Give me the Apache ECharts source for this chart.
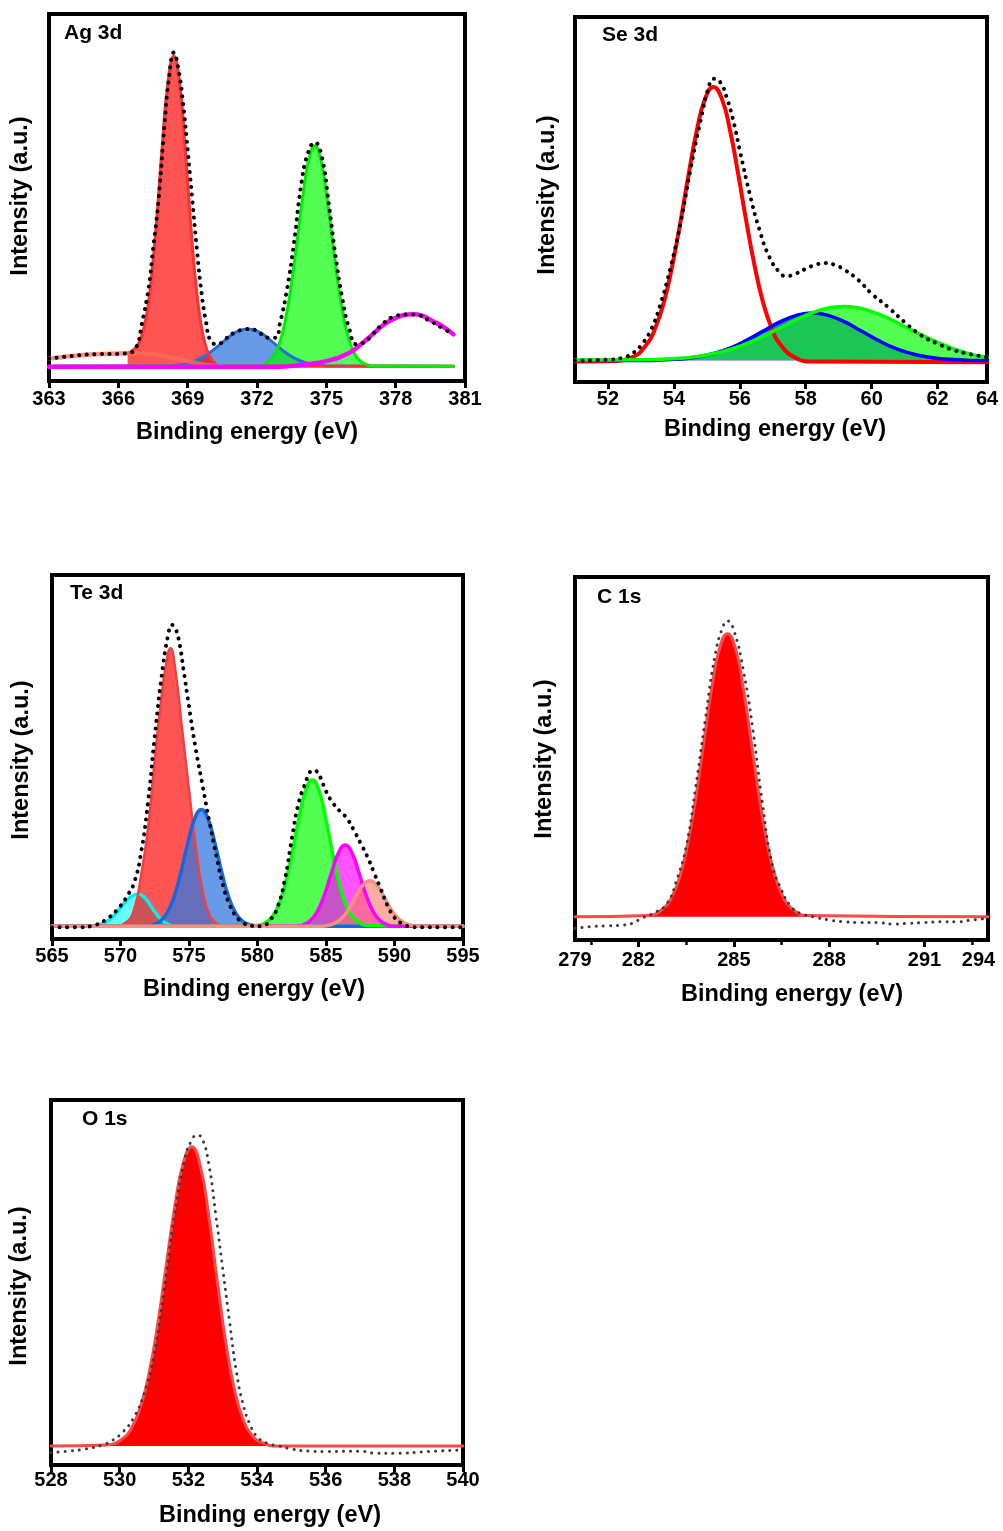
<!DOCTYPE html>
<html>
<head>
<meta charset="utf-8">
<title>XPS spectra</title>
<script src="https://cdn.jsdelivr.net/npm/echarts@6.0.0/dist/echarts.min.js"></script>
<style>
  html, body { margin: 0; padding: 0; background: #fff; }
  #chart { width: 1003px; height: 1531px; }
</style>
</head>
<body>
<div id="chart"></div>
<script>
// intensities are read as % of the plot box height, x in eV

// Ag 3d
const agTicks = [363, 366, 369, 372, 375, 378, 381]
const agBlue = [[363,4],[368.1,4.1],[368.6,4.3],[369.1,5.0],[369.6,6.3],[370.1,8.4],[370.6,11.0],[371.1,13.3],[371.6,14.2],[372.1,13.3],[372.6,11.0],[373.1,8.4],[373.6,6.3],[374.1,5.0],[374.6,4.3],[375.1,4.1],[380.5,4]]
const agRed = [[366.4,7.6],[366.65,8.5],[366.9,10.5],[367.15,15.6],[367.4,26.2],[367.65,43.2],[367.9,64.1],[368.15,81.5],[368.4,88.5],[368.65,81.0],[368.9,62.6],[369.15,41.1],[369.4,23.7],[369.65,12.8],[369.9,7.3],[370.15,5],[370.4,4.0],[380.5,4.0]]
const agBackground = [[363,6.1],[364,6.8],[365,7.3],[366,7.5],[366.6,7.6],[367.5,7.3],[368.4,6.2],[369.3,5.0],[370.1,4.1],[370.6,4.0]]
const agGreen = [[363,4],[372,4.1],[372.5,5.3],[372.75,7.1],[373,10.8],[373.25,17.3],[373.5,26.9],[373.75,38.9],[374,51.1],[374.25,60.5],[374.5,64],[374.75,60.5],[375,51.1],[375.25,38.9],[375.5,26.9],[375.75,17.3],[376,10.8],[376.25,7.1],[376.5,5.3],[377,4.1],[380.5,4]]
const agMagenta = [[363,3.9],[373,3.9],[374,4.5],[375,5.4],[376,7.7],[376.5,10],[377,12.7],[377.5,15.4],[378,17.2],[378.5,18.1],[378.8,18.2],[379.2,17.7],[379.6,16.3],[380,15],[380.5,12.7]]
const agEnvelope = [[363,6.1],[364,6.8],[365,7.3],[366,7.4],[366.5,7.7],[366.8,9.5],[367,15],[367.3,25],[367.5,35.8],[367.75,50],[368,70],[368.2,83],[368.4,89.5],[368.6,85],[368.8,75.7],[369,63],[369.2,49.4],[369.4,35.8],[369.6,24],[369.8,15.9],[370,10.9],[370.3,10],[370.6,11.3],[371,13.1],[371.5,14.1],[371.7,14.2],[372,13.6],[372.5,11.8],[372.8,11.8],[373,15.9],[373.3,25],[373.6,37.6],[373.9,53],[374.2,62],[374.5,65],[374.8,61.2],[375.1,48.5],[375.4,34],[375.7,22.2],[376,14],[376.3,10],[376.6,10.4],[377,12.7],[377.5,15.9],[378,17.7],[378.5,18.1],[378.8,18.1],[379.5,16.3],[380,14.5],[380.5,12.7]]

// Se 3d
const seTickValues = [52, 54, 56, 58, 60, 62]
const seLabelValues = [52, 54, 56, 58, 60, 62, 63.5]
const seLabelText = ['52', '54', '56', '58', '60', '62', '64']
const seRed = [[51,5.6],[52,5.7],[52.7,6.7],[53.2,10.6],[53.45,15.1],[53.7,22],[53.95,31.8],[54.2,43.9],[54.45,57],[54.7,69.1],[54.95,77.7],[55.2,80.8],[55.45,77.7],[55.7,69.1],[55.95,57],[56.2,43.9],[56.45,31.8],[56.7,22],[56.95,15.1],[57.2,10.6],[57.7,6.6],[58.2,5.6],[63.5,5.4]]
const seBlue = [[51,5.9],[53.2,5.9],[53.7,6.1],[54.2,6.3],[54.7,6.85],[55.2,7.8],[55.7,9.3],[56.2,11.4],[56.7,13.9],[57.2,16.4],[57.7,18.2],[58.2,18.9],[58.7,18.2],[59.2,16.4],[59.7,13.9],[60.2,11.4],[60.7,9.3],[61.2,7.8],[61.7,6.85],[62.2,6.3],[62.7,6.1],[63.2,5.9],[63.5,5.9]]
const seGreen = [[51,6.0],[53.15,6.1],[53.65,6.25],[54.15,6.5],[54.65,6.9],[55.15,7.7],[55.65,8.8],[56.15,10.3],[56.65,12.3],[57.15,14.5],[57.65,16.8],[58.15,18.8],[58.65,20.2],[59.15,20.7],[59.65,20.2],[60.15,18.8],[60.65,16.8],[61.15,14.5],[61.65,12.3],[62.15,10.3],[62.65,8.6],[63.15,7.3],[63.5,6.8]]
const seEnvelope = [[51,5.9],[52,6.1],[52.5,6.8],[52.8,8.2],[53,10],[53.3,14.2],[53.6,21.5],[53.9,31.5],[54.2,43.4],[54.5,58],[54.8,71.2],[55.1,82.2],[55.2,83.1],[55.4,82.2],[55.6,78],[55.8,71.7],[56,63.5],[56.3,51.6],[56.6,41.6],[56.9,34.2],[57.2,30.1],[57.4,29.0],[57.7,29.7],[58,31],[58.3,32.1],[58.6,32.6],[58.9,32],[59.2,30.6],[59.6,27.9],[60,24.2],[60.5,20.5],[61,16.4],[61.5,12.8],[62,10.5],[62.5,8.7],[63,7.6],[63.5,6.8]]

// Te 3d
const teTicks = [565, 570, 575, 580, 585, 590, 595]
const teCyan = [[565,3.5],[568,3.6],[568.5,4.0],[569,4.8],[569.5,6.3],[570,8.6],[570.5,10.8],[571,12.1],[571.3,12.3],[571.7,11.6],[572,10.3],[572.5,7.5],[573,5.2],[573.5,4.0],[574,3.6],[595,3.5]]
const teRed = [[565,3.5],[569.5,3.6],[570.4,4.5],[571,8.2],[571.5,17.4],[572,30.1],[572.5,49.3],[573,66.7],[573.3,74.9],[573.65,79.9],[574,74],[574.5,57.5],[575,41],[575.5,25],[576,13],[576.5,6.5],[577,4.3],[577.5,3.7],[578,3.5],[595,3.5]]
const teBlue = [[565,3.5],[571.9,3.5],[572.4,4.0],[572.9,4.9],[573.4,7.2],[573.9,11.5],[574.4,18.2],[574.9,26.2],[575.4,32.9],[575.9,35.6],[576.4,32.9],[576.9,26.2],[577.4,18.2],[577.9,11.5],[578.4,7.2],[578.9,4.9],[579.4,4.0],[579.9,3.5],[595,3.5]]
const teGreen = [[565,3.5],[580,3.7],[580.5,4.3],[581,5.8],[581.5,8.9],[582,14.7],[582.5,23.1],[583,32.7],[583.5,40.6],[584,43.7],[584.5,40.6],[585,32.7],[585.5,23.1],[586,14.7],[586.5,8.9],[587,5.8],[587.5,4.3],[588,3.7],[595,3.5]]
const teMagenta = [[565,3.5],[582.9,3.5],[583.4,4.0],[583.9,5.2],[584.4,7.8],[584.9,12.3],[585.4,18.2],[585.9,23.6],[586.4,25.8],[586.9,23.6],[587.4,18.2],[587.9,12.3],[588.4,7.8],[588.9,5.2],[589.4,4.0],[589.9,3.5],[595,3.5]]
const teSalmon = [[565,3.5],[584.7,3.5],[585.2,3.8],[585.7,4.45],[586.2,5.9],[586.7,8.4],[587.2,11.8],[587.7,14.8],[588.2,16],[588.7,14.8],[589.2,11.8],[589.7,8.4],[590.2,5.9],[590.7,4.45],[591.2,3.8],[591.7,3.5],[595,3.5]]
const teEnvelope = [[565,3.2],[567,3.2],[568,3.7],[569,5.5],[570,9.1],[570.5,11.9],[571,15.5],[571.5,23.7],[572,37.4],[572.5,55.7],[573,72.1],[573.5,84],[573.75,86.3],[574,85.4],[574.3,81.3],[574.6,74],[575,63.9],[575.5,52],[576,42],[576.5,32],[577,22.8],[577.5,14.6],[578,9.1],[578.5,5.9],[579,4.3],[579.5,3.7],[580,3.5],[580.5,3.8],[581,5.5],[581.5,9.1],[582,16.4],[582.5,27.4],[583,37.4],[583.5,42.9],[583.8,45.7],[584,46.3],[584.3,46.1],[584.6,44.3],[585,40.6],[585.5,37.4],[586,35.2],[586.5,33.3],[587,30.1],[587.5,26.5],[588,22.8],[588.5,18.3],[589,13.7],[589.5,9.1],[590,5.9],[590.5,4.3],[591,3.5],[592,3.2],[595,3.2]]

// C 1s
const cTickValues = [282, 285, 288, 291]
const cMinorTicks = [280.5, 283.5, 286.5, 289.5, 292.5]
const cLabelValues = [280, 282, 285, 288, 291, 292.7]
const cLabelText = ['279', '282', '285', '288', '291', '294']
const cPeak = [[280,6.4],[282.3,6.75],[282.8,8.85],[283.05,11.9],[283.3,17.5],[283.55,26.6],[283.8,39.2],[284.05,54.3],[284.3,69.2],[284.55,80.3],[284.8,84.4],[285.05,80.3],[285.3,69.2],[285.55,54.3],[285.8,39.2],[286.05,26.6],[286.3,17.5],[286.55,11.9],[286.8,8.85],[287.3,6.75],[293,6.4]]
const cEnvelope = [[280,3.2],[280.5,3.7],[281,3.9],[281.5,4.1],[281.8,4.6],[282.1,6.0],[282.5,7.5],[282.9,10.1],[283.2,16.5],[283.5,25.7],[283.8,42.2],[284.1,60.6],[284.4,78],[284.65,86.2],[284.8,87.9],[285,85.3],[285.3,74.3],[285.6,57.8],[285.9,37.6],[286.2,21.1],[286.5,13.8],[286.8,9.2],[287.1,7.3],[287.5,6.4],[288,5.5],[288.5,5.0],[289,4.8],[289.5,4.8],[290,4.4],[290.5,4.6],[291,4.8],[291.5,5.0],[292,5.0],[292.5,5.5],[293,6.0]]

// O 1s
const oTicks = [528, 530, 532, 534, 536, 538, 540]
const oPeak = [[528,5.2],[529.6,5.5],[530.1,7.3],[530.35,10.2],[530.6,15.7],[530.85,24.9],[531.1,38.1],[531.35,54.3],[531.6,70.5],[531.85,82.6],[532.1,87.2],[532.35,81.8],[532.6,67.8],[532.85,49.8],[533.1,33],[533.35,20.3],[533.6,12.4],[533.85,8.2],[534.1,6.3],[534.6,5.2],[540,5.2]]
const oEnvelope = [[528,3.4],[528.5,3.8],[529,4.4],[529.5,5.5],[529.8,6.8],[530.1,9.1],[530.4,12.8],[530.7,19.2],[531,30.1],[531.3,48.4],[531.6,68.5],[531.9,84],[532.1,89],[532.25,90.4],[532.4,89.5],[532.6,82.2],[532.8,68.5],[533,53.9],[533.2,39.3],[533.4,25.6],[533.6,16.4],[533.8,11],[534,7.8],[534.3,5.9],[534.6,5.3],[535,4.4],[535.5,3.8],[536,3.7],[537,3.8],[537.5,3.2],[538,3.2],[539,3.7],[539.9,4.1]]

const FONT = '"Liberation Sans", Arial, Helvetica, sans-serif'
const DOTS = [0.1, 7.5]

const chart = echarts.init(document.getElementById('chart'))

const makeGrid = (left, top, width, height) => ({
  left, top, width, height,
  show: true,
  borderColor: '#000',
  borderWidth: 4,
  backgroundColor: 'transparent',
  containLabel: false,
  outerBoundsMode: 'none'
})

const makeXAxis = (gridIndex, min, max, tickValues, labelValues, labelText, margin) => ({
  type: 'value',
  gridIndex, min, max,
  position: 'bottom',
  axisLine: { show: false },
  splitLine: { show: false },
  axisTick: {
    show: true, inside: false, length: 7,
    customValues: tickValues,
    lineStyle: { color: '#000', width: 3 }
  },
  axisLabel: {
    show: true, margin,
    color: '#000', fontFamily: FONT, fontWeight: 'bold', fontSize: 20,
    customValues: labelValues,
    formatter: (v) => {
      const i = labelValues.indexOf(v)
      return i >= 0 && labelText ? labelText[i] : String(v)
    }
  }
})

const makeYAxis = (gridIndex) => ({
  type: 'value', gridIndex, min: 0, max: 100, show: false
})

// one fitted component / envelope
const curve = (idx, data, color, width, fill, origin, dash) => {
  const s = {
    type: 'line',
    xAxisIndex: idx,
    yAxisIndex: idx,
    data,
    showSymbol: false,
    symbol: 'none',
    smooth: 0.5,
    silent: true,
    lineStyle: { color, width, type: dash || 'solid', cap: 'round', join: 'round' }
  }
  if (fill) s.areaStyle = { color: fill, origin, opacity: 1 }
  return s
}

const text = (x, y, str, size, align, rotation) => ({
  type: 'text',
  x, y,
  rotation: rotation || 0,
  silent: true,
  style: {
    text: str,
    fill: '#000',
    font: `bold ${size}px ${FONT}`,
    align: align || 'center',
    verticalAlign: 'middle'
  }
})

const xName = 'Binding energy (eV)'
const yName = 'Intensity (a.u.)'
const up = Math.PI / 2

const option = {
  animation: false,
  backgroundColor: '#fff',
  grid: [
    makeGrid(49, 14, 416, 367),
    makeGrid(575, 17, 412, 365),
    makeGrid(52, 575, 411, 364),
    makeGrid(575, 577, 413, 363),
    makeGrid(51, 1100, 412, 365)
  ],
  xAxis: [
    makeXAxis(0, 363, 381, agTicks, agTicks, null, 8),
    makeXAxis(1, 51, 63.5, seTickValues, seLabelValues, seLabelText, 7),
    makeXAxis(2, 565, 595, teTicks, teTicks, null, 7),
    makeXAxis(3, 280, 293, cTickValues, cLabelValues, cLabelText, 10),
    makeXAxis(4, 528, 540, oTicks, oTicks, null, 5),
    {
      type: 'value', gridIndex: 3, min: 280, max: 293,
      position: 'bottom',
      axisLine: { show: false }, splitLine: { show: false },
      axisLabel: { show: false },
      axisTick: { show: true, length: 5, customValues: cMinorTicks, lineStyle: { color: '#000', width: 2.5 } }
    }
  ],
  yAxis: [makeYAxis(0), makeYAxis(1), makeYAxis(2), makeYAxis(3), makeYAxis(4)],
  series: [
    // Ag 3d
    curve(0, agBlue, '#2a6fd6', 3, 'rgba(51,119,221,0.75)', 4),
    curve(0, agRed, '#ff3030', 3, 'rgba(255,0,0,0.67)', 4),
    curve(0, agBackground, 'rgba(255,110,90,0.75)', 4.5),
    curve(0, agGreen, '#00ee00', 3, 'rgba(0,255,0,0.67)', 4),
    curve(0, agMagenta, '#ff00ff', 4.5),
    curve(0, agEnvelope, '#000', 4, null, null, DOTS),
    // Se 3d
    curve(1, seRed, '#ff0000', 4),
    curve(1, seBlue, '#0000ff', 3.5, 'rgba(0,0,255,0.67)', 5.9),
    curve(1, seGreen, '#00ff00', 3.5, 'rgba(0,255,0,0.67)', 6.0),
    curve(1, seEnvelope, '#000', 4, null, null, DOTS),
    // Te 3d
    curve(2, teCyan, '#00f0f0', 3.5, 'rgba(0,255,255,0.6)', 3.5),
    curve(2, teRed, '#f04040', 2.5, 'rgba(255,0,0,0.67)', 3.5),
    curve(2, teBlue, '#1a66dd', 3.5, 'rgba(51,119,221,0.75)', 3.5),
    curve(2, teGreen, '#00ff00', 3.5, 'rgba(0,255,0,0.67)', 3.5),
    curve(2, teMagenta, '#ff00ff', 3.5, 'rgba(255,0,255,0.67)', 3.5),
    curve(2, teSalmon, '#f89080', 3.5, 'rgba(250,120,100,0.6)', 3.5),
    curve(2, teEnvelope, '#000', 4, null, null, DOTS),
    // C 1s
    curve(3, cPeak, '#ff4848', 3, '#ff0000', 6.4),
    curve(3, cEnvelope, '#3c3c3c', 3, null, null, [0.1, 7]),
    // O 1s
    curve(4, oPeak, '#ff4848', 3, '#ff0000', 5.2),
    curve(4, oEnvelope, '#3c3c3c', 3, null, null, [0.1, 7])
  ],
  graphic: [
    text(64, 33, 'Ag 3d', 21, 'left'),
    text(602, 35, 'Se 3d', 21, 'left'),
    text(70, 593, 'Te 3d', 21, 'left'),
    text(597, 597, 'C 1s', 21, 'left'),
    text(82, 1119, 'O 1s', 21, 'left'),
    text(247, 433, xName, 23.5),
    text(775, 430, xName, 23.5),
    text(254, 990, xName, 23.5),
    text(792, 995, xName, 23.5),
    text(270, 1516, xName, 23.5),
    text(21, 196, yName, 23.5, 'center', up),
    text(548, 195, yName, 23.5, 'center', up),
    text(22, 760, yName, 23.5, 'center', up),
    text(545, 759, yName, 23.5, 'center', up),
    text(20, 1286, yName, 23.5, 'center', up)
  ]
}

chart.setOption(option)
</script>
</body>
</html>
